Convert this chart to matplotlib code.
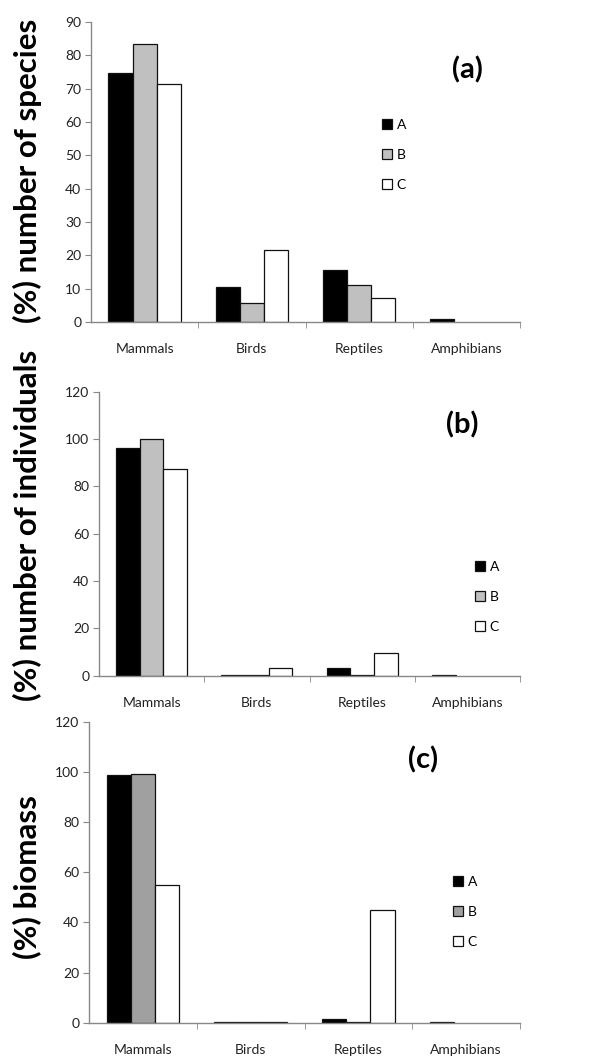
import matplotlib.pyplot as plt
import numpy as np

plt.rcParams['font.family'] = ['Lato', 'DejaVu Sans']

categories = ['Mammals', 'Birds', 'Reptiles', 'Amphibians']
series = ['A', 'B', 'C']

# (a) % number of species
species_A = [74.6, 10.4, 15.6, 0.9]
species_B = [83.4, 5.6, 11.0, 0.0]
species_C = [71.3, 21.7, 7.3, 0.0]

# (b) % number of individuals
indiv_A = [96.3, 0.3, 3.4, 0.3]
indiv_B = [100.0, 0.3, 0.3, 0.0]
indiv_C = [87.3, 3.1, 9.5, 0.0]

# (c) % biomass
biomass_A = [98.8, 0.3, 1.3, 0.3]
biomass_B = [99.3, 0.3, 0.4, 0.0]
biomass_C = [54.8, 0.3, 45.0, 0.0]

fig = plt.figure(figsize=(6.12, 10.61), dpi=100)
W, H = 612.0, 1061.0


def panel(rect, data, greys, ymax, ystep, tag, tagpos, legpos, ylabel, ylabel_y):
    ax = fig.add_axes(rect)
    x = np.arange(len(categories))
    w = 0.225
    colors = ['black', greys, 'white']
    for i, (vals, c) in enumerate(zip(data, colors)):
        vals = np.array(vals)
        bars = ax.bar(x + (i - 1) * w, vals, w, color=c, edgecolor='#111111',
                      linewidth=0.9, label=series[i])
        # empty categories draw nothing
        for b, v in zip(bars, vals):
            if v == 0:
                b.set_visible(False)
    ax.set_xlim(-0.5, 3.5)
    ax.set_ylim(0, ymax)
    ax.set_yticks(np.arange(0, ymax + 1, ystep))
    ax.set_xticks(x)
    ax.set_xticklabels(categories)
    ax.set_xticks([0.5, 1.5, 2.5, 3.5], minor=True)
    ax.tick_params(axis='x', which='major', length=0, pad=15, labelsize=10,
                   labelcolor='#222222')
    ax.tick_params(axis='x', which='minor', length=4, color='#888888')
    ax.tick_params(axis='y', length=4, color='#888888', pad=3, labelsize=10,
                   labelcolor='#222222')
    for s in ['top', 'right']:
        ax.spines[s].set_visible(False)
    for s in ['left', 'bottom']:
        ax.spines[s].set_color('#888888')
        ax.spines[s].set_linewidth(1.0)
    fig.text(tagpos[0] / W, 1 - tagpos[1] / H, tag, fontsize=21,
             fontweight='bold', ha='center', va='center')
    ax.legend(loc='center left',
              bbox_to_anchor=(legpos[0] / W, 1 - legpos[1] / H),
              bbox_transform=fig.transFigure, frameon=False,
              handlelength=0.75, handleheight=0.75, handletextpad=0.3,
              labelspacing=1.3, fontsize=10, borderpad=0)
    fig.text(27 / W, 1 - ylabel_y / H, ylabel, rotation=90, fontsize=22.5,
             fontweight='bold', ha='center', va='center')
    return ax


panel([91 / W, (H - 322) / H, 429 / W, 300 / H],
      [species_A, species_B, species_C], '#c0c0c0', 90, 10,
      '(a)', (467, 70), (375, 155), '(%) number of species', 171)

panel([99 / W, (H - 675.7) / H, 421 / W, 284 / H],
      [indiv_A, indiv_B, indiv_C], '#c0c0c0', 120, 20,
      '(b)', (462, 425), (468, 597), '(%) number of individuals', 525)

panel([89 / W, (H - 1022.7) / H, 431 / W, 301 / H],
      [biomass_A, biomass_B, biomass_C], '#a0a0a0', 120, 20,
      '(c)', (423, 760), (446, 912), '(%) biomass', 877)

fig.savefig('out.png', dpi=100)
